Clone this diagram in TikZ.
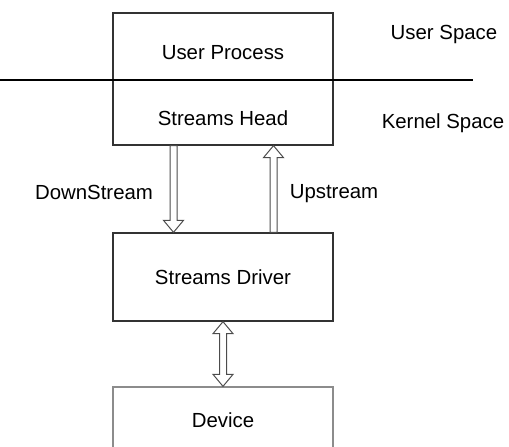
\documentclass[tikz,border=0pt]{standalone}
\usepackage{fontspec}
\setmainfont{Liberation Sans}
\usetikzlibrary{calc}

\tikzset{
  txt/.style={font=\fontsize{20.4}{24}\selectfont},
  box/.style={txt, draw=black!80, line width=1.3pt, minimum width=220pt, inner sep=0pt},
  upper/.style={text height=30pt, text depth=4.3pt},
  hollow/.style={draw=black!70, line width=1pt, to path={
    let \p1=(\tikztostart), \p2=(\tikztotarget), \n1={sign(\y2-\y1)*12} in
    (\x1-3.5pt,\y1) -- (\x2-3.5pt,\y2-\n1) -- (\x2-10pt,\y2-\n1) -- (\x2,\y2)
    -- (\x2+10pt,\y2-\n1) -- (\x2+3.5pt,\y2-\n1) -- (\x1+3.5pt,\y1) -- cycle}},
  hollow both/.style={draw=black!70, line width=1pt, to path={
    let \p1=(\tikztostart), \p2=(\tikztotarget), \n1={sign(\y2-\y1)*12} in
    (\x1,\y1) -- (\x1+10pt,\y1+\n1) -- (\x1+3.5pt,\y1+\n1) -- (\x2+3.5pt,\y2-\n1)
    -- (\x2+10pt,\y2-\n1) -- (\x2,\y2) -- (\x2-10pt,\y2-\n1) -- (\x2-3.5pt,\y2-\n1)
    -- (\x1-3.5pt,\y1+\n1) -- (\x1-10pt,\y1+\n1) -- cycle}}
}

\begin{document}
\begin{tikzpicture}[x=1pt, y=-1pt]
      \clip (0,0) rectangle (509,447);
      \node[box, upper, minimum height=67pt] (proc) at (223,46.5) {User Process};
      \node[box, upper, minimum height=65pt] (head) at (223,112.5) {Streams Head};
      \node[box, minimum height=88pt] (drv) at (223,277) {Streams Driver};
      \node[box, draw=black!45, minimum height=66pt] (dev) at (223,420) {Device};
        % side labels
      \node[txt] (us) at (444,34) {User Space};
      \node[txt] (ks) at (443,123) {Kernel Space};
      \node[txt] (down) at (94,192) {DownStream};
      \node[txt] (up) at (334,194) {Upstream};
        % boundary
      \draw[line width=2pt] (0,80) -- (473,80);
      \draw[hollow] ([xshift=-49.5pt]head.south) to ([xshift=-49.5pt]drv.north);
      \draw[hollow] ([xshift=50.5pt]drv.north) to ([xshift=50.5pt]head.south);
      \draw[hollow both] (drv.south) to (dev.north);
    \end{tikzpicture}
\end{document}
